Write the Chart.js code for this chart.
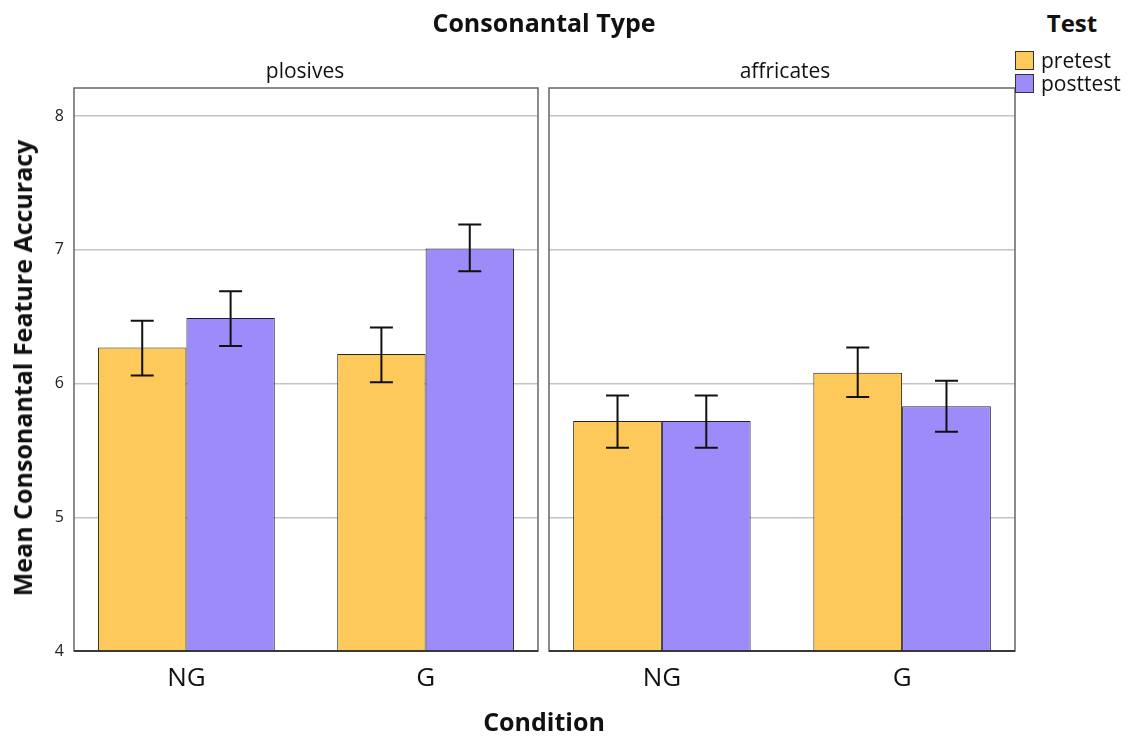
<!DOCTYPE html>
<html>
<head>
<meta charset="utf-8">
<script src="https://cdn.jsdelivr.net/npm/chart.js@4.4.0/dist/chart.umd.min.js"></script>
<style>
  body { margin: 0; background: #fff; font-family: "Open Sans", "DejaVu Sans", sans-serif; color: #111; }
  #wrap { position: relative; width: 1128px; height: 736px; overflow: hidden; }
  canvas { position: absolute; top: 0; }
  .lbl { position: absolute; white-space: nowrap; transform: translate(-50%, -50%); }
  .bold { font-weight: bold; }
  .box { position: absolute; width: 17px; height: 17px; border: 1px solid #333; }
</style>
</head>
<body>
<div id="wrap">
  <canvas id="plosives" width="540" height="736" style="left:0"></canvas>
  <canvas id="affricates" width="470" height="736" style="left:547px"></canvas>

  <div class="lbl bold" style="left:544px;top:22px;font-size:25px">Consonantal Type</div>
  <div class="lbl" style="left:305px;top:70px;font-size:21px">plosives</div>
  <div class="lbl" style="left:785px;top:70px;font-size:21px">affricates</div>
  <div class="lbl bold" style="left:22px;top:368px;font-size:25px;transform:translate(-50%,-50%) rotate(-90deg)">Mean Consonantal Feature Accuracy</div>
  <div class="lbl bold" style="left:544px;top:721px;font-size:25px">Condition</div>

  <div class="lbl bold" style="left:1072px;top:22px;font-size:24px">Test</div>
  <div class="box" style="left:1015px;top:51px;background:#FEC95B"></div>
  <div class="lbl" style="left:1041px;top:60px;font-size:21px;transform:translate(0,-50%)">pretest</div>
  <div class="box" style="left:1015px;top:74px;background:#9E8BFA"></div>
  <div class="lbl" style="left:1041px;top:83px;font-size:21px;transform:translate(0,-50%)">posttest</div>
</div>

<script>
// данные: средние значения и границы доверительных интервалов
const conditions = ['NG', 'G'];
const yTicks = [4, 5, 6, 7, 8];

const plosivesPre = [6.27, 6.22];
const plosivesPreLow = [6.06, 6.01];
const plosivesPreHigh = [6.47, 6.42];
const plosivesPost = [6.49, 7.01];
const plosivesPostLow = [6.28, 6.84];
const plosivesPostHigh = [6.69, 7.19];

const affricatesPre = [5.72, 6.08];
const affricatesPreLow = [5.52, 5.90];
const affricatesPreHigh = [5.91, 6.27];
const affricatesPost = [5.72, 5.83];
const affricatesPostLow = [5.52, 5.64];
const affricatesPostHigh = [5.91, 6.02];

const preColor = '#FEC95B';
const postColor = '#9E8BFA';

// усы погрешности и рамка панели
const errorBarPlugin = {
    id: 'errorBars',
    afterDatasetsDraw(chart) {
        const ctx = chart.ctx;
        const y = chart.scales.y;
        ctx.save();
        ctx.strokeStyle = '#111';
        ctx.lineWidth = 2;
        chart.data.datasets.forEach((ds, i) => {
            const meta = chart.getDatasetMeta(i);
            meta.data.forEach((bar, j) => {
                const top = y.getPixelForValue(ds.high[j]);
                const bottom = y.getPixelForValue(ds.low[j]);
                ctx.beginPath();
                ctx.moveTo(bar.x, top);
                ctx.lineTo(bar.x, bottom);
                ctx.moveTo(bar.x - 11.5, top);
                ctx.lineTo(bar.x + 11.5, top);
                ctx.moveTo(bar.x - 11.5, bottom);
                ctx.lineTo(bar.x + 11.5, bottom);
                ctx.stroke();
            });
        });
        const a = chart.chartArea;
        ctx.lineWidth = 1.5;
        ctx.strokeStyle = '#666';
        ctx.strokeRect(a.left, a.top, a.right - a.left, a.bottom - a.top);
        ctx.strokeStyle = '#222';
        ctx.beginPath();
        ctx.moveTo(a.left, a.bottom);
        ctx.lineTo(a.right, a.bottom);
        ctx.stroke();
        ctx.restore();
    }
};

function buildChart(id, pre, preLow, preHigh, post, postLow, postHigh, showY) {
    const ctx = document.getElementById(id).getContext('2d');
    return new Chart(ctx, {
        type: 'bar',
        data: {
            labels: conditions,
            datasets: [
                { label: 'pretest', data: pre, low: preLow, high: preHigh,
                  backgroundColor: preColor, borderColor: '#2a2418', borderWidth: 1 },
                { label: 'posttest', data: post, low: postLow, high: postHigh,
                  backgroundColor: postColor, borderColor: '#221d3a', borderWidth: 1 }
            ]
        },
        options: {
            responsive: false,
            animation: false,
            devicePixelRatio: 1,
            categoryPercentage: 0.739,
            barPercentage: 1.0,
            layout: { padding: { top: 88, right: 2, bottom: 44, left: showY ? 0 : 2 } },
            scales: {
                x: {
                    grid: { display: false },
                    border: { display: false },
                    ticks: { font: { family: 'Open Sans', size: 26 }, color: '#111', padding: 4 },
                    // категории стоят чуть шире, чем половины панели (как в SPSS)
                    afterBuildTicks: scale => {
                        scale._startValue = -0.47;
                        scale._valueRange = 1.94;
                    },
                    afterFit: scale => { scale.height = 41; }
                },
                y: {
                    min: 4,
                    max: 8.21,
                    border: { display: false },
                    grid: { color: '#c4c4c4', lineWidth: 1.5, drawTicks: false },
                    ticks: {
                        display: showY,
                        stepSize: 1,
                        padding: 10,
                        color: '#222',
                        font: { family: 'Open Sans', size: 16 }
                    },
                    afterBuildTicks: scale => {
                        scale.ticks = yTicks.map(v => ({ value: v }));
                    },
                    afterFit: scale => { scale.width = showY ? 74 : 0; }
                }
            },
            plugins: {
                legend: { display: false },
                tooltip: { enabled: false }
            }
        },
        plugins: [errorBarPlugin]
    });
}

buildChart('plosives', plosivesPre, plosivesPreLow, plosivesPreHigh,
    plosivesPost, plosivesPostLow, plosivesPostHigh, true);
buildChart('affricates', affricatesPre, affricatesPreLow, affricatesPreHigh,
    affricatesPost, affricatesPostLow, affricatesPostHigh, false);
</script>
</body>
</html>
